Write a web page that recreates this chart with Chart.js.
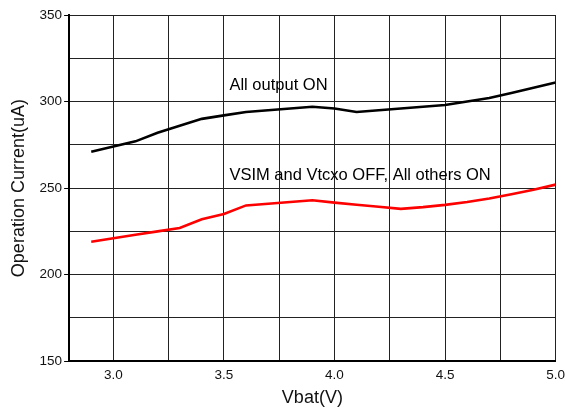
<!DOCTYPE html>
<html>
<head>
<meta charset="utf-8">
<script src="https://cdn.jsdelivr.net/npm/chart.js@4"></script>
<style>
    body { margin: 0; background: #fff; }
    #wrap { width: 565px; height: 414px; }
</style>
</head>
<body>
<div id="wrap"><canvas id="currentChart"></canvas></div>
<script>
const vbat = [2.9, 3.0, 3.1, 3.2, 3.3, 3.4, 3.5, 3.6, 3.7, 3.8, 3.9, 4.0, 4.1, 4.2, 4.3, 4.4, 4.5, 4.6, 4.7, 4.8, 4.9, 5.0];
const allOutputOn = [271, 274, 277, 282, 286, 290, 292, 294, 295, 296, 297, 296, 294, 295, 296, 297, 298, 300, 302, 305, 308, 311];
const vsimVtcxoOff = [219, 221, 223, 225, 227, 232, 235, 240, 241, 242, 243, 241.6, 240.4, 239.2, 238, 239, 240.3, 242, 244, 246.5, 249, 252];
const seriesNames = ["All output ON", "VSIM and Vtcxo OFF, All others ON"];
const xTicks = [3.0, 3.25, 3.5, 3.75, 4.0, 4.25, 4.5, 4.75, 5.0];
const yTicks = [150, 175, 200, 225, 250, 275, 300, 325, 350];

const FONT = "'Liberation Sans', Arial, Helvetica, sans-serif";

// series names are written on the plot next to each curve
const curveLabels = {
    id: "curveLabels",
    afterDatasetsDraw(chart) {
        const { ctx, scales: { x, y } } = chart;
        const spots = [{ x: 3.525, y: 309.5 }, { x: 3.525, y: 257.2 }];
        ctx.save();
        ctx.font = "16.5px " + FONT;
        ctx.fillStyle = "#000";
        ctx.textBaseline = "middle";
        ctx.textAlign = "left";
        seriesNames.forEach((name, i) => {
            ctx.fillText(name, x.getPixelForValue(spots[i].x), y.getPixelForValue(spots[i].y));
        });
        ctx.restore();
    }
};

new Chart(document.getElementById("currentChart"), {
    type: "line",
    data: {
        datasets: [
            {
                label: seriesNames[0],
                data: vbat.map((v, i) => ({ x: v, y: allOutputOn[i] })),
                borderColor: "#000",
                borderWidth: 2.6,
                pointRadius: 0,
                tension: 0
            },
            {
                label: seriesNames[1],
                data: vbat.map((v, i) => ({ x: v, y: vsimVtcxoOff[i] })),
                borderColor: "#ff0000",
                borderWidth: 2.6,
                pointRadius: 0,
                tension: 0
            }
        ]
    },
    options: {
        responsive: true,
        maintainAspectRatio: false,
        animation: false,
        layout: { padding: { top: 15, left: 0, right: 0, bottom: 0 } },
        plugins: {
            legend: { display: false },
            tooltip: { enabled: false }
        },
        scales: {
            x: {
                type: "linear",
                min: 2.8,
                max: 5.0,
                afterBuildTicks: axis => { axis.ticks = xTicks.map(v => ({ value: v })); },
                grid: { color: "#222", lineWidth: 1, tickLength: 6, tickColor: "rgba(0,0,0,0)" },
                border: { color: "#000", width: 2 },
                ticks: {
                    color: "#111",
                    font: { family: FONT, size: 13.5 },
                    padding: 0,
                    maxRotation: 0,
                    autoSkip: false,
                    callback: v => (Math.abs(v * 2 - Math.round(v * 2)) < 1e-6 ? v.toFixed(1) : "")
                },
                title: {
                    display: true,
                    text: "Vbat(V)",
                    color: "#111",
                    font: { family: FONT, size: 18 },
                    padding: { top: 4, bottom: 5 }
                }
            },
            y: {
                min: 150,
                max: 350,
                afterBuildTicks: axis => { axis.ticks = yTicks.map(v => ({ value: v })); },
                grid: {
                    color: "#222",
                    lineWidth: 1,
                    tickLength: 5,
                    tickColor: c => (c.tick && c.tick.value % 50 === 0 ? "#000" : "rgba(0,0,0,0)")
                },
                border: { color: "#000", width: 2 },
                ticks: {
                    color: "#111",
                    font: { family: FONT, size: 13.5 },
                    padding: 2,
                    autoSkip: false,
                    callback: v => (v % 50 === 0 ? String(v) : "")
                },
                title: {
                    display: true,
                    text: "Operation Current(uA)",
                    color: "#111",
                    font: { family: FONT, size: 18 },
                    padding: { top: 8, bottom: 8 }
                }
            }
        }
    },
    plugins: [curveLabels]
});
</script>
</body>
</html>
